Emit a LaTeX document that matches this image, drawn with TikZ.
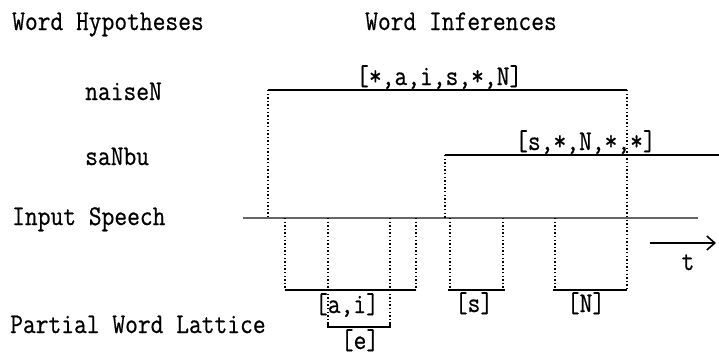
\documentclass[tikz,border=0pt]{standalone}
\usepackage{fontspec}
\usepackage{graphicx}
\setmonofont{Latin Modern Mono}[FakeBold=0.6]
\usetikzlibrary{arrows.meta}
\newcommand\lbl[1]{\scalebox{1}[1.15]{#1}}
\begin{document}
\begin{tikzpicture}[x=1pt,y=-1pt,
  txt/.style={inner sep=0pt,font=\ttfamily\fontsize{24.8}{28}\selectfont},
  hyp/.style={line width=2.2pt,black},
  speech/.style={line width=2.2pt,black!60},
  drop/.style={line width=1.4pt,dash pattern=on 1.4pt off 2.2pt},
  lat/.style={line width=2.2pt,black}]
\useasboundingbox (0,0) rectangle (719,356);
% titles
\node[txt,anchor=base west] (th) at (12,30) {\lbl{Word Hypotheses}};
\node[txt,anchor=base west] (ti) at (365,30) {\lbl{Word Inferences}};
\node[txt,anchor=base west] (tn) at (85,100) {\lbl{naiseN}};
\node[txt,anchor=base west] (ts) at (85,165) {\lbl{saNbu}};
\node[txt,anchor=base west] (tsp) at (12,225) {\lbl{Input Speech}};
\node[txt,anchor=base west] (tl) at (10,333) {\lbl{Partial Word Lattice}};
% hypotheses
\coordinate (n1) at (268,90); \coordinate (n2) at (627,90);
\coordinate (s1) at (445,155); \coordinate (s2) at (719,155);
\draw[hyp] (n1) -- (n2);
\draw[hyp] (s1) -- (s2);
\node[txt,anchor=base west] (ln) at (356,85) {\lbl{[*,a,i,s,*,N]}};
\node[txt,anchor=base west] (ls) at (515,150) {\lbl{[s,*,N,*,*]}};
% speech line
\coordinate (sp1) at (243,218); \coordinate (sp2) at (698,218);
\draw[speech] (sp1) -- (sp2);
% drops from hypotheses
\coordinate (n1b) at (268,218);
\coordinate (s1b) at (445,218);
\coordinate (n2b) at (627,290);
\draw[drop] (n1) -- (n1b);
\draw[drop] (s1) -- (s1b);
\draw[drop] (n2) -- (n2b);
% lattice [a,i]
\coordinate (a1t) at (285,218); \coordinate (a1b) at (285,290);
\coordinate (a2t) at (416,218); \coordinate (a2b) at (416,290);
\draw[drop] (a1t) -- (a1b);
\draw[drop] (a2t) -- (a2b);
\draw[lat] (a1b) -- (a2b);
\node[txt,anchor=base] (lai) at (347,313) {\lbl{[a,i]}};
% lattice [e]
\coordinate (e1t) at (328,218); \coordinate (e1b) at (328,327);
\coordinate (e2t) at (390,218); \coordinate (e2b) at (390,327);
\draw[drop] (e1t) -- (e1b);
\draw[drop] (e2t) -- (e2b);
\draw[lat] ([yshift=5pt]e1b) -- (e1b) -- (e2b) -- ([yshift=5pt]e2b);
\node[txt,anchor=base] (le) at (360,349) {\lbl{[e]}};
% lattice [s]
\coordinate (b1t) at (450,218); \coordinate (b1b) at (450,290);
\coordinate (b2t) at (503,218); \coordinate (b2b) at (503,290);
\draw[drop] (b1t) -- (b1b);
\draw[drop] (b2t) -- (b2b);
\draw[lat] ([xshift=-2pt]b1b) -- ([xshift=2pt]b2b);
\node[txt,anchor=base] (lsb) at (474,312) {\lbl{[s]}};
% lattice [N]
\coordinate (c1t) at (555,218); \coordinate (c1b) at (555,290);
\draw[drop] (c1t) -- (c1b);
\draw[lat] ([xshift=-2pt]c1b) -- (n2b);
\node[txt,anchor=base] (lN) at (586,312) {\lbl{[N]}};
% time arrow
\coordinate (t1) at (650,243); \coordinate (t2) at (716,243);
\draw[line width=1.6pt,-{Straight Barb[length=8pt,width=14pt]}] (t1) -- (t2);
\node[txt,anchor=base] (tt) at (688,270) {\lbl{t}};
\end{tikzpicture}
\end{document}
